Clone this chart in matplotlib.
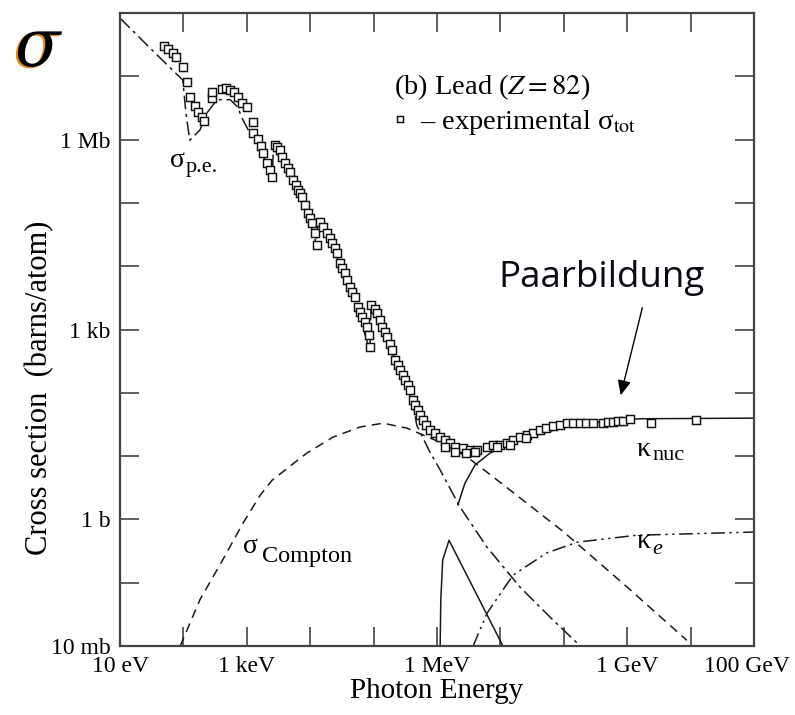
import numpy as np
import matplotlib
matplotlib.use('Agg')
import matplotlib.pyplot as plt
import matplotlib.transforms as mtransforms
import matplotlib.patheffects as pe

plt.rcParams['font.family'] = ['Liberation Serif', 'DejaVu Serif']
plt.rcParams['mathtext.fontset'] = 'stix'

# log10(E / eV), log10(sigma / barn)
data_lgE = [1.69, 1.76, 1.84, 1.88, 1.99, 2.06, 2.10, 2.18, 2.23, 2.29, 2.32,
            2.45, 2.45, 2.61, 2.67, 2.74, 2.80, 2.86, 2.92, 3.00, 3.10, 3.10, 3.18, 3.22, 3.26, 3.32, 3.37, 3.40,
            3.44, 3.48, 3.52, 3.56, 3.60, 3.65, 3.68, 3.73, 3.78, 3.81, 3.84, 3.87, 3.92, 3.97, 4.00, 4.03, 4.08, 4.11,
            4.15, 4.20, 4.27, 4.31, 4.34, 4.39, 4.42, 4.47, 4.50, 4.55, 4.58, 4.63, 4.66, 4.71, 4.75, 4.79, 4.82,
            4.86, 4.90, 4.92, 4.94,
            4.96, 5.02, 5.05, 5.10, 5.13, 5.18, 5.21, 5.26, 5.29, 5.34, 5.38, 5.42, 5.46, 5.50, 5.54, 5.57, 5.62,
            5.65, 5.70, 5.73, 5.78, 5.83, 5.89, 5.97, 6.05, 6.13, 6.21, 6.28, 6.41, 6.52, 6.63, 6.79, 6.88, 6.99,
            7.10, 7.20, 7.31, 7.42, 7.51, 7.62, 7.72, 7.83, 7.94, 8.05, 8.15, 8.26, 8.35, 8.46, 8.62, 8.70, 8.78,
            8.86, 8.93, 9.04, 9.38, 10.09,
            6.13, 6.28, 6.45, 6.60, 6.95, 7.15, 7.40]
data_lgS = [7.48, 7.43, 7.37, 7.30, 7.15, 6.91, 6.67, 6.53, 6.44, 6.36, 6.29,
            6.66, 6.75, 6.80, 6.82, 6.78, 6.75, 6.67, 6.58, 6.52, 6.28, 6.10, 6.01, 5.90, 5.79, 5.63, 5.52, 5.41,
            5.91, 5.88, 5.84, 5.73, 5.63, 5.55, 5.49, 5.36, 5.28, 5.20, 5.15, 5.09, 4.97, 4.84, 4.76, 4.68, 4.52, 4.33,
            4.70, 4.62, 4.52, 4.45, 4.37, 4.29, 4.21, 4.05, 3.97, 3.89, 3.78, 3.67, 3.59, 3.51, 3.36, 3.28, 3.20,
            3.12, 3.04, 2.92, 2.72,
            3.39, 3.32, 3.26, 3.15, 3.04, 2.96, 2.88, 2.77, 2.68, 2.52, 2.44, 2.36, 2.28, 2.20, 2.12, 2.04, 1.89,
            1.81, 1.73, 1.65, 1.57, 1.49, 1.41, 1.36, 1.30, 1.25, 1.21, 1.14, 1.13, 1.10, 1.10, 1.14, 1.18, 1.18,
            1.21, 1.25, 1.30, 1.33, 1.36, 1.41, 1.44, 1.48, 1.49, 1.52, 1.52, 1.52, 1.52, 1.52, 1.52, 1.54, 1.54,
            1.55, 1.55, 1.59, 1.52, 1.57,
            1.14, 1.06, 1.05, 1.06, 1.14, 1.18, 1.28]

pe_lgE = [1.00, 1.47, 1.99, 2.04, 2.10, 2.26, 2.37, 2.53, 2.74, 2.85, 2.94, 3.05, 3.18, 3.40, 3.42,
          3.60, 3.81, 3.97, 4.09, 4.12, 4.34, 4.55, 4.75, 4.94, 4.96, 5.13, 5.29, 5.50, 5.62,
          5.68, 5.89, 6.05, 6.36, 6.79, 7.31, 7.83, 8.26]
pe_lgS = [7.92, 7.45, 6.94, 6.42, 5.99, 6.15, 6.42, 6.63, 6.63, 6.52, 6.31, 6.10, 5.96, 5.39, 5.88,
          5.58, 5.15, 4.78, 4.37, 4.65, 4.33, 3.85, 3.32, 2.66, 3.34, 2.98, 2.64, 2.16, 1.84,
          1.49, 1.06, 0.78, 0.20, -0.44, -1.07, -1.59, -2.00]

compton_lgE = [1.95, 2.26, 2.62, 2.94, 3.21, 3.40, 3.63, 3.95, 4.36, 4.79, 5.15, 5.53, 6.00, 6.47, 6.99, 8.00, 9.00, 9.94]
compton_lgS = [-2.00, -1.27, -0.64, -0.06, 0.38, 0.62, 0.80, 1.05, 1.30, 1.46, 1.52, 1.44, 1.24, 0.99, 0.59, -0.20, -1.07, -1.91]

knuc_lgE = [6.33, 6.44, 6.60, 6.84, 7.31, 7.94, 8.57, 9.20, 11.0]
knuc_lgS = [0.23, 0.57, 0.86, 1.05, 1.25, 1.44, 1.54, 1.59, 1.60]

gdr_lgE = [6.05, 6.06, 6.09, 6.19, 7.04]
gdr_lgS = [-2.00, -1.27, -0.64, -0.33, -2.00]

ke_lgE = [6.57, 6.79, 7.20, 7.73, 8.21, 9.15, 11.0]
ke_lgS = [-2.00, -1.48, -0.88, -0.53, -0.36, -0.25, -0.20]

xtick_pos = [1e1, 1e3, 1e6, 1e9, 1e11]
xtick_lab = ['10 eV', '1 keV', '1 MeV', '1 GeV', '100 GeV']
ytick_pos = [1e-2, 1e0, 1e3, 1e6]
ytick_lab = ['10 mb', '1 b', '1 kb', '1 Mb']

lc = '#1a1a1a'

fig = plt.figure(figsize=(7.95, 7.15), dpi=100)
ax = fig.add_axes([120/795, 1-646/715, 634/795, 633/715])

def curve(lgE, lgS, **kw):
    ax.plot(10**np.array(lgE), 10**np.array(lgS), color=lc, lw=1.1, **kw)

curve(pe_lgE, pe_lgS, ls=(0, (9, 3, 2, 3)))
curve(compton_lgE, compton_lgS, ls=(0, (6, 4)))
curve(knuc_lgE, knuc_lgS, ls='-')
curve(gdr_lgE, gdr_lgS, ls='-')
curve(ke_lgE, ke_lgS, ls=(0, (9, 3, 1.5, 3, 1.5, 3)))

ax.plot(10**np.array(data_lgE), 10**np.array(data_lgS), ls='', marker='s', ms=5.2,
        mfc='white', mec='#111', mew=1.05, zorder=5, label='– experimental σ$_{\\rm tot}$')

ax.set_xscale('log')
ax.set_yscale('log')
ax.set_xlim(1e1, 1e11)
ax.set_ylim(1e-2, 1e8)
ax.set_xticks([10.0**k for k in range(1, 12)])
ax.set_xticklabels([xtick_lab[xtick_pos.index(10.0**k)] if 10.0**k in xtick_pos else '' for k in range(1, 12)])
ax.set_yticks([10.0**k for k in range(-2, 9)])
ax.set_yticklabels([ytick_lab[ytick_pos.index(10.0**k)] if 10.0**k in ytick_pos else '' for k in range(-2, 9)])
ax.minorticks_off()
ax.tick_params(which='major', direction='in', length=14, width=1.2, color='#444',
               top=True, right=True, labelsize=17, pad=7)
for s in ax.spines.values():
    s.set_linewidth(1.6)
    s.set_color('#444')

# keep the last x label inside the canvas
last = ax.get_xticklabels()[-1]
last.set_transform(last.get_transform() + mtransforms.ScaledTranslation(-5/72, 0, fig.dpi_scale_trans))

ax.set_xlabel('Photon Energy', fontsize=21, labelpad=1)
fig.text(40/795, 1-388/715, 'Cross section  (barns/atom)', rotation=90, fontsize=22,
         ha='center', va='center')

leg = ax.legend(title='(b) Lead ($Z\\,\\!=\\,\\!82$)', loc='upper left', bbox_to_anchor=(0.432, 0.906),
                frameon=False, handlelength=0.4, handletextpad=0.5, borderpad=0, borderaxespad=0,
                fontsize=20.5, title_fontsize=20.5, alignment='left', markerscale=0.8, labelspacing=0.2)

def label(fx, fy, main, sub, dx, dy, size=20, subsize=16, substyle='normal'):
    ax.text(fx, fy, main, transform=ax.transAxes, fontsize=size, va='baseline')
    ax.annotate(sub, xy=(fx, fy), xycoords='axes fraction', xytext=(dx, dy),
                textcoords='offset points', fontsize=subsize, va='baseline', style=substyle)

label(0.079, 0.757, 'σ', 'p.e.', 11, -4)
label(0.194, 0.147, 'σ', 'Compton', 13.5, -6.5, subsize=17.5)
label(0.815, 0.300, 'κ', 'nuc', 11.5, -3)
label(0.815, 0.155, 'κ', 'e', 11, -4.5, substyle='italic')

# Paarbildung annotation
fig.text(498/795, 1-287/715, 'Paarbildung', fontsize=26.5, family='Open Sans', color='#0a0a14')
ax.annotate('', xy=((620-120)/634, (646-398)/633), xytext=((643-120)/634, (646-305)/633),
            xycoords='axes fraction', textcoords='axes fraction',
            arrowprops=dict(arrowstyle='-|>,head_length=0.9,head_width=0.4', color='black', lw=1.0))

# big sigma with orange shadow
fig.text(15/795, 1-66/715, 'σ', fontsize=48, style='italic', family='DejaVu Serif', color='black',
         path_effects=[pe.withSimplePatchShadow(offset=(-1.5, -1), shadow_rgbFace='#e08a1e', alpha=1.0)])

fig.savefig('out.png', dpi=100)
